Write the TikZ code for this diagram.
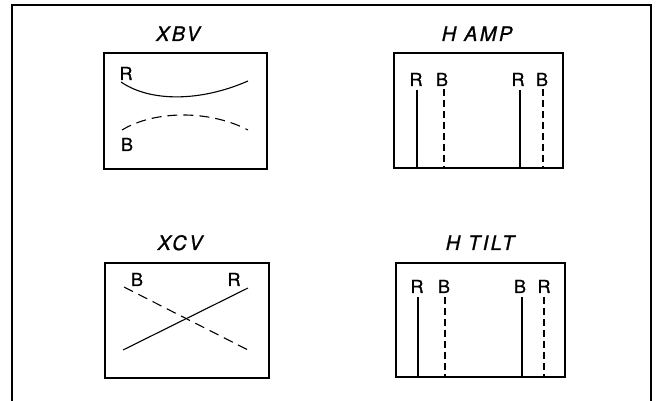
\documentclass[tikz,border=0pt]{standalone}
\usepackage{fontspec}
\setmainfont{TeX Gyre Heros}
\newfontfamily\ttlfont[FakeBold=1,LetterSpace=12]{TeX Gyre Heros}
\newfontfamily\lblfont[FakeBold=1]{TeX Gyre Heros}
\begin{document}
\begin{tikzpicture}[x=1pt,y=-1pt,
  screen/.style={draw,line width=1.6pt,inner sep=0pt,anchor=north west},
  ttl/.style={font=\ttlfont\fontsize{20}{20}\selectfont\itshape,anchor=base},
  lbl/.style={font=\lblfont\fontsize{18}{18}\selectfont,anchor=base,inner sep=0pt},
  trace/.style={line width=1.1pt},
  dtrace/.style={line width=1.1pt,dash pattern=on 7pt off 4pt},
  ltrace/.style={line width=1.1pt,dash pattern=on 10pt off 6pt}]
\useasboundingbox (0,0) rectangle (657,401);
\draw[line width=1.1pt] (12,401) -- (12,5) -- (651,5) -- (651,401);
% XBV
\node[screen,minimum width=163pt,minimum height=116pt] (b1) at (103,52) {};
\node[ttl] (t1) at (178,41) {XBV};
\draw[trace] (121,82) .. controls (150,102) and (200,102) .. (248,81);
\draw[ltrace] (122,130) .. controls (155,110) and (210,110) .. (248,130);
\node[lbl] (r1) at (126,80) {R};
\node[lbl] (bb1) at (127,151) {B};
% H AMP
\node[screen,minimum width=169pt,minimum height=115pt] (b2) at (393,52) {};
\node[ttl] (t2) at (477,41) {H AMP};
\node[lbl] (r2a) at (416,86) {R};
\node[lbl] (b2a) at (442,86) {B};
\node[lbl] (r2b) at (518,86) {R};
\node[lbl] (b2b) at (542,86) {B};
\draw[trace] (417,90) -- (417,167);
\draw[dtrace] (444,89) -- (444,167);
\draw[trace] (520,90) -- (520,167);
\draw[dtrace] (543,89) -- (543,167);
% XCV
\node[screen,minimum width=164pt,minimum height=115pt] (b3) at (104,262) {};
\node[ttl] (t3) at (180,250) {XCV};
\draw[ltrace] (124,287) -- (250,351);
\draw[trace] (123,350) -- (248,288);
\node[lbl] (bb3) at (137,286) {B};
\node[lbl] (r3) at (234,286) {R};
% H TILT
\node[screen,minimum width=169pt,minimum height=114pt] (b4) at (395,262) {};
\node[ttl] (t4) at (480,250) {H TILT};
\node[lbl] (r4a) at (417,293) {R};
\node[lbl] (b4a) at (444,293) {B};
\node[lbl] (b4b) at (520,293) {B};
\node[lbl] (r4b) at (544,293) {R};
\draw[trace] (418,297) -- (418,376);
\draw[dtrace] (445,297) -- (445,376);
\draw[trace] (522,297) -- (522,376);
\draw[dtrace] (544,297) -- (544,376);
\end{tikzpicture}
\end{document}
